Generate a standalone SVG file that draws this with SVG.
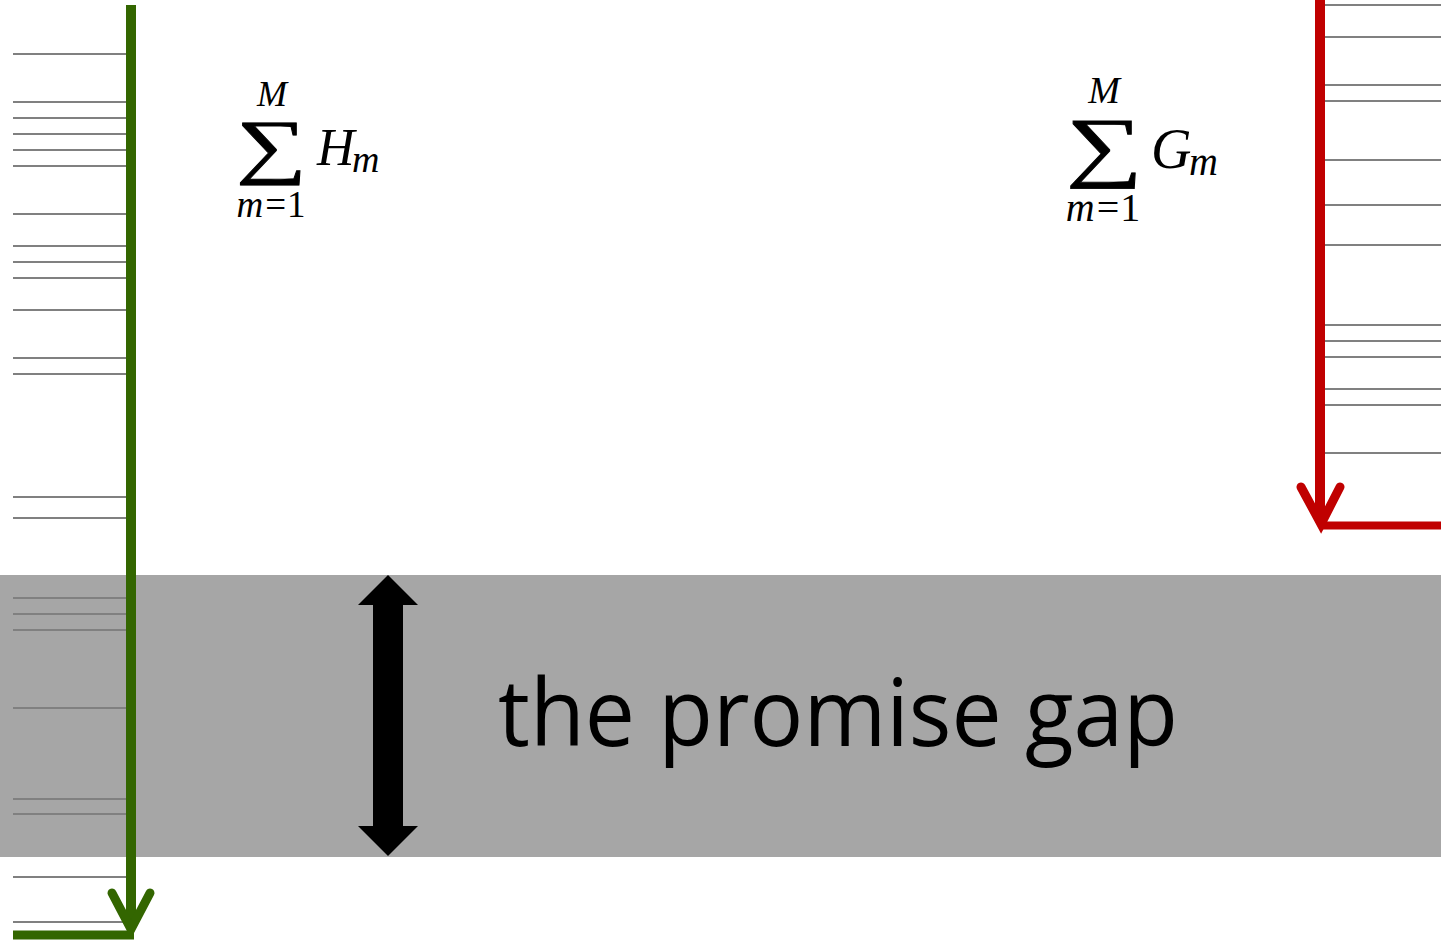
<svg xmlns="http://www.w3.org/2000/svg" width="1441" height="940" viewBox="0 0 1441 940">
<style>
.tick{stroke:#808080;stroke-width:2;fill:none}
.mi{font-family:"Liberation Serif",serif;font-style:italic;fill:#000}
.mr{font-family:"Liberation Serif",serif;fill:#000}
.sum{font-family:"Liberation Serif",serif;fill:#000}
.label{font-family:"Open Sans","Noto Sans",sans-serif;fill:#000}
</style>
<rect width="1441" height="940" fill="#ffffff"/>
<g id="gap-band">
<rect x="0" y="575" width="1441" height="282" fill="#a6a6a6"/>
</g>
<g id="left-ticks" class="tick">
<path d="M13 54H126M13 102H126M13 118H126M13 134H126M13 150H126M13 166H126M13 214H126M13 246H126M13 262H126M13 278H126M13 310H126M13 358H126M13 374H126M13 497H126M13 518H126M13 598H126M13 614H126M13 630H126M13 708H126M13 799H126M13 814H126M13 877H126M13 922H126"/>
</g>
<g id="right-ticks" class="tick">
<path d="M1325 5H1441M1325 37H1441M1325 85H1441M1325 101H1441M1325 160H1441M1325 205H1441M1325 245H1441M1325 325H1441M1325 341H1441M1325 357H1441M1325 389H1441M1325 405H1441M1325 453H1441"/>
</g>
<g id="connectors">
<g id="green-arrow" stroke="#336600" fill="none">
<line x1="131" y1="5" x2="131" y2="928" stroke-width="10"/>
<line x1="13" y1="935" x2="134" y2="935" stroke-width="9"/>
<polyline points="112,893 131,929 150,893" stroke-width="9" stroke-linecap="round" stroke-linejoin="miter"/>
</g>
<g id="red-arrow" stroke="#c00000" fill="none">
<line x1="1320" y1="0" x2="1320" y2="522" stroke-width="10"/>
<line x1="1322" y1="525.5" x2="1441" y2="525.5" stroke-width="8"/>
<polyline points="1301,487 1321,524 1340,487" stroke-width="9" stroke-linecap="round" stroke-linejoin="miter"/>
</g>
<g id="gap-arrow">
<polygon points="388,575 418,605 403,605 403,826 418,826 388,856 358,826 373,826 373,605 358,605" fill="#000"/>
</g>
</g>
<g id="sum-H">
<text class="mi" x="272" y="106" font-size="36" text-anchor="middle">M</text>
<text class="sum" transform="translate(271.5 170) scale(1.38 1)" font-size="72" text-anchor="middle" stroke="#000" stroke-width="0.8">∑</text>
<text class="mi" x="317" y="165" font-size="52">H</text>
<text class="mi" x="352" y="172" font-size="38">m</text>
<text x="271" y="217" font-size="37" text-anchor="middle"><tspan class="mi">m</tspan><tspan class="mr" dx="2">=</tspan><tspan class="mr" dx="1">1</tspan></text>
</g>
<g id="sum-G">
<text class="mi" x="1104" y="103" font-size="38" text-anchor="middle">M</text>
<text class="sum" transform="translate(1104 172) scale(1.38 1)" font-size="78" text-anchor="middle" stroke="#000" stroke-width="0.8">∑</text>
<text class="mi" x="1151" y="168" font-size="56">G</text>
<text class="mi" x="1189" y="175" font-size="40">m</text>
<text x="1103" y="221" font-size="40" text-anchor="middle"><tspan class="mi">m</tspan><tspan class="mr" dx="2">=</tspan><tspan class="mr" dx="1">1</tspan></text>
</g>
<g id="promise-gap">
<text class="label" x="498" y="746" font-size="93" textLength="680" lengthAdjust="spacingAndGlyphs">the promise gap</text>
</g>
</svg>
